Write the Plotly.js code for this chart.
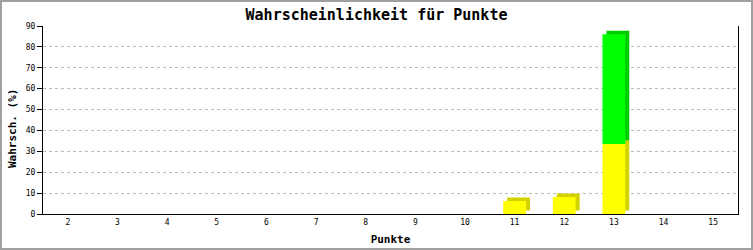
<!DOCTYPE html>
<html>
<head>
<meta charset="utf-8">
<script src="https://cdn.plot.ly/plotly-3.0.1.min.js"></script>
<style>
  html, body { margin: 0; padding: 0; background: #fff; }
  #frame { width: 753px; height: 250px; box-sizing: border-box; border: 2px solid #a0a0a0; background: #fff; }
  #chart { width: 749px; height: 246px; }
</style>
</head>
<body>
<div id="frame"><div id="chart"></div></div>
<script>
// Points scored and the probability (in %) of each, split into two stacked parts
const punkte = [2, 3, 4, 5, 6, 7, 8, 9, 10, 11, 12, 13, 14, 15];
const anteilGelb = [0, 0, 0, 0, 0, 0, 0, 0, 0, 6.2, 8.1, 33.5, 0, 0];
const anteilGruen = [0, 0, 0, 0, 0, 0, 0, 0, 0, 0, 0, 52.5, 0, 0];
const yTicks = [0, 10, 20, 30, 40, 50, 60, 70, 80, 90];

const MONO = '"DejaVu Sans Mono", "Liberation Mono", monospace';

// 3D look: a darker copy of every segment, nudged right and up, sits behind the face
const depthY = 1.7;      // upward shift in data units
const depthX = 0.08;     // sideways shift in category units
const barW = 0.46;

const gruenBase = anteilGelb.slice();

function segment(values, base, color, shifted) {
  return {
    type: 'bar',
    x: punkte,
    y: values,
    base: base.map(b => b + (shifted ? depthY : 0)),
    width: barW,
    offset: -barW / 2 + (shifted ? depthX : 0),
    marker: { color: color, line: { width: 0 } },
    hoverinfo: 'skip',
    showlegend: false
  };
}

const zero = punkte.map(() => 0);
const data = [
  segment(anteilGelb, zero, '#d2d200', true),
  segment(anteilGruen, gruenBase, '#00cc00', true),
  segment(anteilGelb, zero, '#ffff00', false),
  segment(anteilGruen, gruenBase, '#00ff00', false)
];

const layout = {
  width: 749,
  height: 246,
  margin: { l: 41, r: 13, t: 24, b: 34, pad: 0 },
  paper_bgcolor: '#ffffff',
  plot_bgcolor: '#ffffff',
  barmode: 'overlay',
  title: {
    text: 'Wahrscheinlichkeit für Punkte',
    font: { family: MONO, size: 15, color: '#000', weight: 'bold' },
    x: 0.5, xanchor: 'center', y: 0.95, yanchor: 'middle'
  },
  xaxis: {
    type: 'linear',
    range: [1.5, 15.5],
    tickvals: punkte,
    ticktext: punkte.map(String),
    ticks: '',
    showgrid: false,
    zeroline: false,
    showline: true,
    linecolor: '#000',
    linewidth: 1,
    tickfont: { family: MONO, size: 8, color: '#000' },
    title: { text: 'Punkte', font: { family: MONO, size: 11, color: '#000', weight: 'bold' }, standoff: 9 },
    fixedrange: true
  },
  yaxis: {
    range: [0, 90],
    tickvals: yTicks,
    ticktext: yTicks.map(String),
    ticks: 'outside',
    ticklen: 5,
    tickcolor: '#000',
    showgrid: true,
    gridcolor: '#bbbbbb',
    griddash: 'dot',
    gridwidth: 1,
    zeroline: false,
    showline: true,
    mirror: true,
    linecolor: '#000',
    linewidth: 1,
    tickfont: { family: MONO, size: 8, color: '#000' },
    fixedrange: true
  },
  annotations: [{
    text: 'Wahrsch. (%)',
    xref: 'paper', yref: 'paper',
    x: 0, y: 0.452,
    xanchor: 'center', yanchor: 'middle',
    xshift: -31,
    textangle: -90,
    showarrow: false,
    font: { family: MONO, size: 11, color: '#000', weight: 'bold' }
  }],
  font: { family: MONO }
};

Plotly.newPlot('chart', data, layout, { displayModeBar: false, staticPlot: true });
</script>
</body>
</html>
